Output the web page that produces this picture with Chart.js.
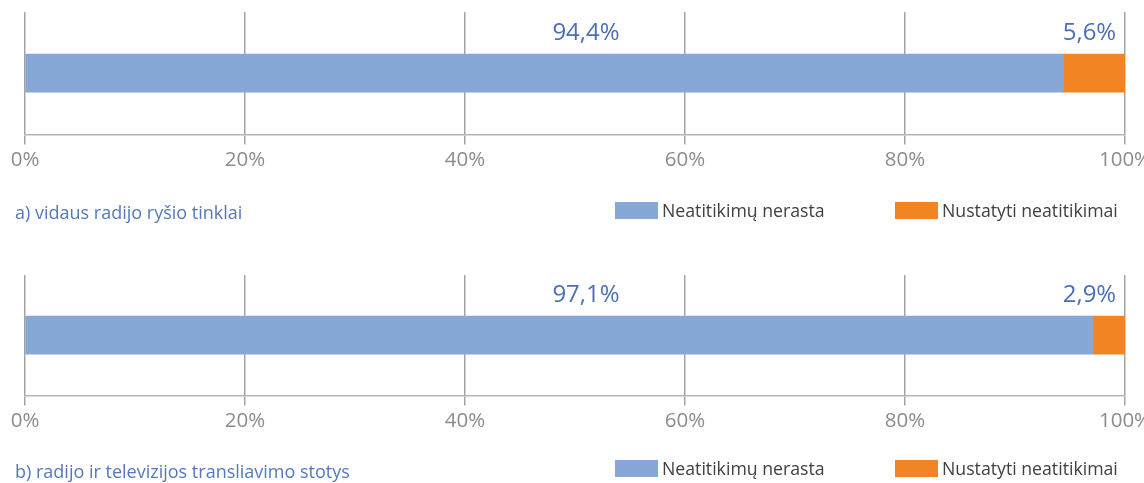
<!DOCTYPE html>
<html><head><meta charset="utf-8">
<script src="https://cdn.jsdelivr.net/npm/chart.js@4.4.0/dist/chart.umd.min.js"></script>
<style>
html,body{margin:0;padding:0;background:#fff;overflow:hidden;width:1144px;height:483px}
.wrap{position:absolute;left:0;width:1170px}
canvas{display:block}
</style></head><body>
<div class="wrap" style="top:0;height:240px"><canvas id="c0" width="1170" height="240"></canvas></div>
<div class="wrap" style="top:258px;height:225px"><canvas id="c1" width="1170" height="225"></canvas></div>
<script>
const categories = ['a) vidaus radijo ryšio tinklai', 'b) radijo ir televizijos transliavimo stotys'];
const seriesNames = ['Neatitikimų nerasta', 'Nustatyti neatitikimai'];
const notFound = [94.4, 97.1];
const found = [5.6, 2.9];
const tickValues = [0, 20, 40, 60, 80, 100];

const FONT = '"Open Sans", "Noto Sans", sans-serif';
const BLUE = '#87a8d6';
const ORANGE = '#f38423';

function fmt(v){ return v.toFixed(1).replace('.', ',') + '%'; }

const overlay = {
  id: 'overlay',
  afterDatasetsDraw(chart, args, opts) {
    const ctx = chart.ctx;
    const xs = chart.scales.x;
    ctx.save();
    ctx.font = '24px ' + FONT;
    ctx.fillStyle = '#4a6fb6';
    ctx.textBaseline = 'middle';
    const b0 = chart.getDatasetMeta(0).data[0];
    const top = b0.y - b0.height / 2;
    ctx.textAlign = 'center';
    ctx.fillText(fmt(chart.data.datasets[0].data[0]), xs.getPixelForValue(51), top - 21);
    ctx.textAlign = 'right';
    ctx.fillText(fmt(chart.data.datasets[1].data[0]), xs.getPixelForValue(99.2), top - 21);
    ctx.restore();
  },
  afterDraw(chart, args, opts) {
    const ctx = chart.ctx;
    ctx.save();
    ctx.textBaseline = 'middle';
    ctx.textAlign = 'left';
    ctx.font = '18px ' + FONT;
    ctx.fillStyle = '#5578bd';
    ctx.fillText(opts.caption, 15, opts.captionY);
    const ds = chart.data.datasets;
    const boxX = [615, 895];
    ds.forEach((d, i) => {
      ctx.fillStyle = d.backgroundColor;
      ctx.fillRect(boxX[i], opts.legendY, 43, 17);
      ctx.fillStyle = '#404040';
      ctx.font = '17.7px ' + FONT;
      ctx.fillText(d.label, boxX[i] + 47, opts.legendY + 10);
    });
    ctx.restore();
  }
};

function makeChart(id, idx, padTop, padBottom, captionY, legendY) {
  return new Chart(document.getElementById(id), {
    type: 'bar',
    data: {
      labels: [categories[idx]],
      datasets: [
        { label: seriesNames[0], data: [notFound[idx]], backgroundColor: BLUE, barThickness: 38 },
        { label: seriesNames[1], data: [found[idx]], backgroundColor: ORANGE, barThickness: 38 }
      ]
    },
    options: {
      indexAxis: 'y',
      responsive: false,
      animation: false,
      devicePixelRatio: 1,
      layout: { padding: { left: 25, right: 45, top: padTop, bottom: padBottom } },
      plugins: {
        legend: { display: false },
        tooltip: { enabled: false },
        overlay: { caption: categories[idx], captionY: captionY, legendY: legendY }
      },
      scales: {
        x: {
          stacked: true, min: 0, max: 100,
          afterBuildTicks(s) { s.ticks = tickValues.map(v => ({ value: v })); },
          ticks: { callback: v => v + '%', color: '#8c8c8c', font: { family: FONT, size: 20.5 }, padding: 3, maxRotation: 0 },
          grid: { color: '#a3a3a3', lineWidth: 1.5, drawTicks: true, tickLength: 10, tickColor: '#a3a3a3' },
          border: { display: true, color: '#b5b5b5', width: 1.5 }
        },
        y: { stacked: true, display: false }
      }
    },
    plugins: [overlay]
  });
}

makeChart('c0', 0, 12, 65, 214, 202);
makeChart('c1', 1, 17, 47, 215, 202);
</script>
</body></html>
